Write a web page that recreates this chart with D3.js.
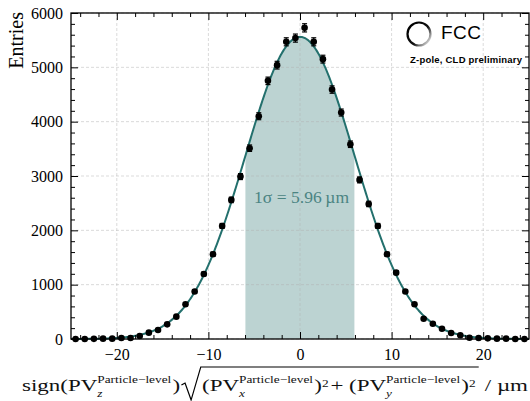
<!DOCTYPE html>
<html>
<head>
<meta charset="utf-8">
<script src="https://cdn.jsdelivr.net/npm/d3@7"></script>
<style>
  body { margin: 0; background: #fff; }
  svg text { font-family: "Liberation Serif", "DejaVu Serif", serif; }
  .axis text { font-family: "Liberation Serif", serif; font-size: 16px; fill: #000; }
</style>
</head>
<body>
<div id="chart"></div>
<script>
// bin centres (1 um wide bins) and entries
var binCenters = d3.range(-24.5, 25, 1);
var entries = [0, 1, 3, 6, 6, 18, 18, 55, 117, 166,
               270, 411, 639, 875, 1197, 1560, 2081, 2560, 2989, 3512,
               4100, 4751, 5040, 5470, 5538, 5727, 5470, 5151, 4591, 4168,
               3585, 2928, 2486, 2081, 1560, 1221, 875, 639, 374, 282,
               190, 110, 68, 24, 18, 12, 6, 6, 1, 0];
var xTicks = [-20, -10, 0, 10, 20];
var yTicks = [0, 1000, 2000, 3000, 4000, 5000, 6000];

// gaussian fit parameters
var fitAmp = 5560, fitMean = 0, fitSigma = 5.96;

var width = 530, height = 401;
var margin = {top: 13, right: 1, bottom: 62, left: 71};
var w = width - margin.left - margin.right,
    h = height - margin.top - margin.bottom;

var svg = d3.select("#chart").append("svg")
    .attr("width", width).attr("height", height);
var g = svg.append("g")
    .attr("transform", "translate(" + margin.left + "," + margin.top + ")");

var x = d3.scaleLinear().domain([-25, 25]).range([0, w]);
var y = d3.scaleLinear().domain([0, 6000]).range([h, 0]);

var gauss = function(v) {
    return fitAmp * Math.exp(-Math.pow(v - fitMean, 2) / (2 * fitSigma * fitSigma));
};

// shaded 1 sigma band under the fit
var band = d3.range(-fitSigma, fitSigma + 0.001, 0.05);
g.append("path")
    .datum(band)
    .attr("fill", "#bcd3d2")
    .attr("d", d3.area()
        .x(function(d) { return x(d); })
        .y0(y(0))
        .y1(function(d) { return y(gauss(d)); }));

// grid
g.append("g").selectAll("line").data(xTicks).join("line")
    .attr("x1", function(d) { return x(d); }).attr("x2", function(d) { return x(d); })
    .attr("y1", 0).attr("y2", h)
    .attr("stroke", "#b0b0b0").attr("stroke-opacity", 0.6)
    .attr("stroke-width", 0.8).attr("stroke-dasharray", "3,2");
g.append("g").selectAll("line").data(yTicks).join("line")
    .attr("x1", 0).attr("x2", w)
    .attr("y1", function(d) { return y(d); }).attr("y2", function(d) { return y(d); })
    .attr("stroke", "#b0b0b0").attr("stroke-opacity", 0.6)
    .attr("stroke-width", 0.8).attr("stroke-dasharray", "3,2");

// fit curve
var curveX = d3.range(-25, 25.001, 0.1);
g.append("path")
    .datum(curveX)
    .attr("fill", "none")
    .attr("stroke", "#23706d")
    .attr("stroke-width", 2)
    .attr("d", d3.line()
        .x(function(d) { return x(d); })
        .y(function(d) { return y(gauss(d)); }));

// data points with poisson error bars
var pts = binCenters.map(function(c, i) { return {x: c, n: entries[i]}; });
var eb = g.append("g").attr("stroke", "#000").attr("stroke-width", 1.2);
pts.forEach(function(p) {
    var e = Math.sqrt(p.n);
    if (e < 1) return;
    var cx = x(p.x);
    eb.append("line").attr("x1", cx).attr("x2", cx)
        .attr("y1", y(p.n - e)).attr("y2", y(p.n + e));
    eb.append("line").attr("x1", cx - 2.5).attr("x2", cx + 2.5)
        .attr("y1", y(p.n - e)).attr("y2", y(p.n - e));
    eb.append("line").attr("x1", cx - 2.5).attr("x2", cx + 2.5)
        .attr("y1", y(p.n + e)).attr("y2", y(p.n + e));
});
g.append("g").selectAll("circle").data(pts).join("circle")
    .attr("cx", function(d) { return x(d.x); })
    .attr("cy", function(d) { return y(d.n); })
    .attr("r", 3.3)
    .attr("fill", "#000");

// sigma label
g.append("text")
    .attr("x", (x(-5.2) + x(5.2)) / 2 + 1.5)
    .attr("y", 190)
    .attr("text-anchor", "middle")
    .attr("textLength", 95)
    .style("font-size", "17.5px")
    .attr("fill", "#4b8482")
    .text("1\u03c3 = 5.96\u2009\u00b5m");

// axes, ticks pointing inwards on all four sides
var xMinor = d3.range(-24, 25, 2).filter(function(d) { return d % 10 !== 0; });
var yMinor = d3.range(0, 6001, 200).filter(function(d) { return d % 1000 !== 0; });

function styleAxis(sel) {
    sel.attr("class", "axis").attr("font-family", null).attr("font-size", null);
    sel.select(".domain").remove();
    sel.selectAll("line").attr("stroke", "#000").attr("stroke-width", 1);
}

g.append("g").attr("transform", "translate(0," + h + ")")
    .call(d3.axisBottom(x).tickValues(xTicks).tickSize(-7).tickPadding(10)
        .tickFormat(d3.format("d")))
    .call(styleAxis);
g.append("g").attr("transform", "translate(0," + h + ")")
    .call(d3.axisBottom(x).tickValues(xMinor).tickSize(-4).tickFormat(""))
    .call(styleAxis);
g.append("g")
    .call(d3.axisTop(x).tickValues(xTicks).tickSize(-7).tickFormat(""))
    .call(styleAxis);
g.append("g")
    .call(d3.axisTop(x).tickValues(xMinor).tickSize(-4).tickFormat(""))
    .call(styleAxis);
g.append("g")
    .call(d3.axisLeft(y).tickValues(yTicks).tickSize(-7).tickPadding(8)
        .tickFormat(d3.format("d")))
    .call(styleAxis);
g.append("g")
    .call(d3.axisLeft(y).tickValues(yMinor).tickSize(-4).tickFormat(""))
    .call(styleAxis);
g.append("g").attr("transform", "translate(" + w + ",0)")
    .call(d3.axisRight(y).tickValues(yTicks).tickSize(-7).tickFormat(""))
    .call(styleAxis);
g.append("g").attr("transform", "translate(" + w + ",0)")
    .call(d3.axisRight(y).tickValues(yMinor).tickSize(-4).tickFormat(""))
    .call(styleAxis);

g.append("rect")
    .attr("width", w).attr("height", h)
    .attr("fill", "none").attr("stroke", "#000").attr("stroke-width", 1.3);

// y label
svg.append("text")
    .attr("transform", "translate(23,12) rotate(-90)")
    .attr("text-anchor", "end")
    .style("font-size", "20px")
    .text("Entries");

// x label, built piece by piece (main text widened to mimic the LaTeX font)
var lab = svg.append("g").attr("fill", "#111");
var cx = 0;
function piece(str, size, dy, italic, stretch) {
    var t = lab.append("text").attr("x", cx).attr("y", dy)
        .style("font-size", size + "px").text(str);
    if (italic) t.style("font-style", "italic");
    var len = t.node().getComputedTextLength();
    if (stretch) {
        len = len * stretch;
        t.attr("textLength", len).attr("lengthAdjust", "spacingAndGlyphs");
    }
    return len;
}
function main(str) { cx += piece(str, 16.5, 0, false, 1.15); }
function supsub(sup, sub) {
    var a = piece(sup, 11, -8.5);
    var b = piece(sub, 11, 6, true);
    cx += Math.max(a, b) + 1;
}
function sq(str) { cx += piece(str, 11, -4) + 1.5; }

main("sign(PV");
supsub("Particle\u2212level", "z");
main(")");
var radStart = cx;
cx += 18;
main("(PV");
supsub("Particle\u2212level", "x");
main(")");
sq("2");
main(" + (PV");
supsub("Particle\u2212level", "y");
main(")");
sq("2");
var radEnd = cx + 1;
cx += 6;
main("/ \u00b5m");

lab.append("path")
    .attr("d", "M" + (radStart + 1) + ",-6 L" + (radStart + 4) + ",-8 L" + (radStart + 9) + ",9 L" +
        (radStart + 17) + ",-24 L" + radEnd + ",-24")
    .attr("fill", "none").attr("stroke", "#000").attr("stroke-width", 1);

lab.attr("transform", "translate(22,391) scale(" + (506 / cx) + ",1)");

// FCC logo
var defs = svg.append("defs");
var grad = defs.append("linearGradient").attr("id", "ring")
    .attr("x1", "0.1").attr("y1", "0.2").attr("x2", "0.95").attr("y2", "0.9");
grad.append("stop").attr("offset", "0").attr("stop-color", "#000");
grad.append("stop").attr("offset", "0.55").attr("stop-color", "#111");
grad.append("stop").attr("offset", "1").attr("stop-color", "#e8e8e8");
svg.append("circle")
    .attr("cx", 419).attr("cy", 34).attr("r", 11.5)
    .attr("fill", "none").attr("stroke", "url(#ring)").attr("stroke-width", 2.2);
svg.append("text")
    .attr("x", 441).attr("y", 38.5)
    .attr("textLength", 40)
    .style("font-family", "\"Liberation Sans\", sans-serif")
    .style("font-size", "19px")
    .text("FCC");
svg.append("text")
    .attr("x", 410).attr("y", 63)
    .attr("textLength", 112)
    .style("font-family", "\"Liberation Sans\", sans-serif")
    .style("font-weight", "bold")
    .style("font-size", "9.5px")
    .text("Z-pole, CLD preliminary");
</script>
</body>
</html>
